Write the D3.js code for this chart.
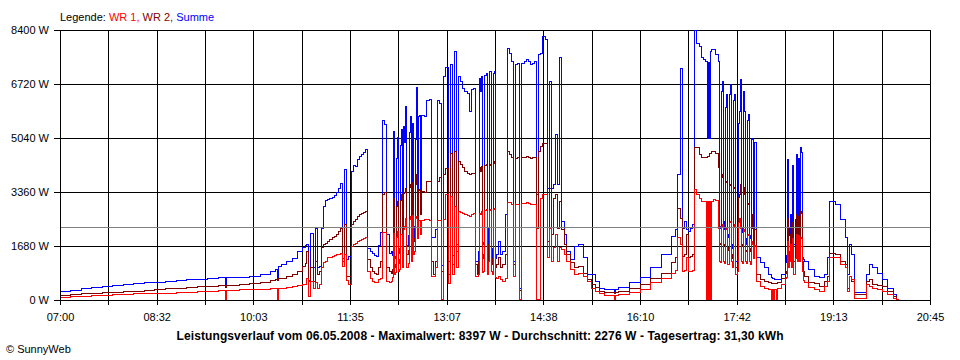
<!DOCTYPE html>
<html><head><meta charset="utf-8">
<script src="https://cdn.jsdelivr.net/npm/d3@7"></script>
<style>
body{margin:0;background:#fff}
svg{display:block}
text{font-family:Arial,"Liberation Sans",sans-serif}
</style>
</head><body>
<svg id="chart" width="960" height="360"></svg>
<script>
// ---------- data ----------
const startTime = "07:00";
const endTime = "20:45";
const xTickLabels = ["07:00","08:32","10:03","11:35","13:07","14:38","16:10","17:42","19:13","20:45"];
const yTicks = [0,1680,3360,5040,6720,8400];
const average = 2276;
const legendItems = ["WR 1", "WR 2", "Summe"];
const titleText = "Leistungsverlauf vom 06.05.2008 - Maximalwert: 8397 W - Durchschnitt: 2276 W - Tagesertrag: 31,30 kWh";
const copyrightText = "\u00A9 SunnyWeb";

// minutes after 07:00
const minutes = [
  0,10,20,30,40,50,60,70,80,90,100,110,120,130,140,150,155,157,158,160,170,180,190,200,204,206,207,210,215,220,225,230,233,
  234,236,238,240,242,244,246,248,250,252,
  254,256,258,260,262,264,266,268,270,272,
  274,276,278,280,282,284,286,288,290,292,
  294,296,298,300,302,304,306,308,310,312,
  314,315,316,317,318,319,320,321,322,323,
  324,325,326,327,328,329,330,331,332,333,
  334,335,336,337,338,339,340,341,342,343,
  344,346,348,350,352,354,356,358,360,362,
  364,366,368,370,372,374,376,378,380,382,
  384,386,388,390,392,394,396,397,398,399,
  400,401,402,403,404,405,406,407,408,409,
  410,411,412,413,414,416,418,420,422,424,
  426,428,430,432,434,436,438,440,442,444,
  446,448,450,452,454,456,458,460,462,464,
  466,468,470,472,474,476,478,
  480,484,488,492,496,500,504,508,512,516,520,526,527,530,540,550,560,570,580,584,
  586,588,590,592,594,596,598,600,602,604,
  606,608,610,612,613,614,615,616,617,618,
  620,622,624,625,626,627,628,629,630,631,
  632,633,634,635,636,637,638,639,640,641,
  642,643,644,645,646,647,648,649,650,651,
  652,653,654,655,656,657,658,659,660,664,
  668,672,675,676,677,678,679,680,684,688,
  689,690,691,692,693,694,695,696,697,698,
  699,700,701,702,703,704,705,706,710,715,
  720,725,728,730,735,740,745,747,749,751,
  753,760,765,768,770,775,780,785,790,793,
  795
];

// Summe (W)
const summe = [
  280,310,365,400,420,440,490,520,540,560,585,610,630,650,665,690,700,395,705,710,715,725,790,900,950,640,1050,1100,1200,1300,1500,1630,1700,
  1720,620,2080,1000,2240,1000,1050,2240,2900,3100,
  3120,3170,3200,3250,3330,3480,3640,1300,4050,1250,
  1350,4000,4200,4150,4370,4450,4520,4600,4680,1600,
  1500,1450,1400,1350,1700,2100,5600,5450,2030,1450,
  1500,1400,5250,1300,1350,4400,5050,1450,1600,4800,
  5300,1500,5400,4900,6030,1700,2000,5200,5700,2000,
  5500,1950,2300,5000,6600,3000,5700,5750,3400,5750,
  5750,5700,6200,6250,1930,1930,2200,6200,6100,1060,
  6950,7220,1200,7321,1400,7737,1721,6958,6803,6595,
  6492,6440,5870,6544,6595,1203,1203,1500,6906,6500,
  6958,1800,1721,7000,7062,1500,2240,7100,7114,1600,
  1203,7050,7114,1300,1410,1825,1410,1514,2654,7840,
  7684,7425,1203,7321,7373,373,7373,7425,7477,7425,
  7321,7373,7425,3277,7632,7684,8200,8099,3484,6803,
  3484,3588,5143,3588,7529,2447,2033,
  1500,1255,1670,1740,1307,789,789,581,373,321,321,230,321,394,529,705,996,1410,1981,2200,
  3899,7197,2240,2447,2188,2136,2240,2344,8397,7995,
  7892,7529,7477,7425,7425,5040,7400,5040,7737,7789,
  7789,7632,7425,2240,2300,6500,6803,2447,2200,6000,
  6388,2033,1950,6400,6699,1721,1600,6200,6388,1203,
  1400,5500,5870,6854,2240,2100,6500,5870,1721,1900,
  5600,5766,2000,1900,5040,4988,2200,4900,1307,1152,
  996,789,700,680,660,640,633,633,789,1152,
  1400,4366,2240,2000,2654,1800,4200,1721,2500,4521,
  2240,4400,2300,4729,4600,1307,1250,1203,944,736,
  705,789,1307,3070,2966,2499,1930,790,1721,1410,
  218,218,800,1100,996,840,633,373,166,10,
  0
];

// WR 2 (W)
const wr2 = [
  155,175,200,207,220,240,255,275,300,330,350,370,390,410,420,440,450,380,455,460,480,510,560,615,640,600,660,680,740,800,900,1050,1150,
  1500,581,996,581,1203,789,893,1618,1721,1773,
  1825,1877,1929,1981,2033,2136,2240,1203,2344,736,
  736,2344,2447,2499,2603,2654,2706,2737,2758,1250,
  996,893,810,789,996,1203,3277,3329,996,893,
  840,950,3173,996,1100,2900,3070,1150,1250,3100,
  3277,1203,3300,3350,3484,1410,1550,3500,3588,1600,
  3650,1825,1900,3600,3899,2400,3432,3400,2654,3380,
  3380,3329,3692,3692,1203,789,1203,3692,3796,900,
  3899,4097,800,4573,1100,4625,1500,4314,4210,4107,
  4003,3951,3899,3951,3951,1100,789,1200,4107,4000,
  4158,1300,1410,4180,4210,1200,1721,4200,4210,1300,
  1100,4250,4314,1000,1100,1307,996,1100,1410,4625,
  4521,4418,1100,4397,4418,300,4439,4439,4470,4439,
  4397,4418,4418,2240,4625,4780,4884,4884,1825,3484,
  2033,3173,3277,2240,3070,2188,1721,
  1410,1152,1014,1030,840,633,477,394,270,239,239,200,239,270,373,477,664,840,1152,1307,
  2862,2551,1359,1410,2033,1307,1359,1410,4729,4729,
  4521,4418,4418,4418,4418,4470,4470,4573,4573,4625,
  4625,4573,4107,1721,1750,3800,3899,1721,1700,3650,
  3692,1618,1550,3550,3588,1410,1300,3500,3484,996,
  1100,3200,3277,3588,1721,1650,3500,3277,1500,1550,
  3000,2966,1600,1500,2654,2240,1600,2200,789,633,
  581,529,510,505,500,498,498,560,664,840,
  900,2551,1203,1500,2033,1400,2400,1203,1800,2654,
  2033,2600,1900,2758,2700,1203,900,736,560,498,
  425,581,736,1462,1410,1203,1100,373,736,581,
  166,166,581,633,477,446,425,249,114,10,
  0
];

// WR 1 (W)
const wr1 = [
  85,95,120,140,150,160,175,190,200,205,215,230,245,255,265,290,300,30,305,310,320,330,340,350,355,30,360,365,390,420,440,470,480,
  684,114,581,373,529,373,477,996,1152,1203,
  1307,1328,1359,1390,1410,1431,1462,1048,1410,600,
  477,1670,1721,1773,1825,1846,1877,1908,1929,900,
  684,581,529,529,633,684,2095,2095,581,560,
  581,700,2064,789,850,1950,2116,900,950,2050,
  2033,996,2200,2300,2551,996,1150,2500,2602,1200,
  2620,1410,1500,2600,2551,1900,2468,2470,2033,2468,
  2468,2499,2499,2468,736,736,996,2468,2468,10,
  2499,3277,500,3225,800,2913,1000,2758,2737,2706,
  2654,2633,2602,2654,2706,736,736,800,2706,2650,
  2758,850,893,2780,2810,800,1203,2800,2810,900,
  789,2830,2862,700,684,736,633,581,684,3039,
  3018,2966,736,2966,2966,10,2987,2987,3018,2987,
  2966,2966,2966,10,10,3173,3277,3277,1307,2240,
  1203,1618,2033,1203,1618,1566,1410,
  1203,944,789,840,737,581,373,270,187,146,135,10,150,166,218,321,529,684,840,923,
  1929,1721,893,913,1307,893,893,913,3432,3277,
  3173,3070,3070,3070,10,3070,10,3070,10,3070,
  3121,3090,2240,1203,1180,2300,2344,1203,1150,2200,
  2240,1100,1120,2400,2447,1203,1000,2300,2344,800,
  900,2400,2551,2240,1203,1150,2200,2136,1203,1150,
  2000,2033,1200,1100,1825,1721,1300,1700,581,425,
  373,321,10,321,10,321,10,353,477,684,
  700,1825,996,1200,1721,1000,1900,789,1300,2033,
  1203,2000,1200,1929,1900,893,600,529,394,321,
  270,425,581,1307,1307,1100,1000,270,736,633,
  62,62,477,425,373,321,270,166,62,10,
  0
];

// ---------- chart ----------
const svg = d3.select("#chart");
const L = 60, R = 930, T = 30, B = 300;

const parseHM = s => { const p = s.split(":").map(Number); return new Date(2008, 4, 6, p[0], p[1]); };
const t0 = parseHM(startTime), t1 = parseHM(endTime);
const x = d3.scaleTime().domain([t0, t1]).range([L, R]);
const y = d3.scaleLinear().domain([0, 8400]).range([B, T]);
const times = minutes.map(m => d3.timeMinute.offset(t0, m));
const gridTimes = d3.range(19).map(i => new Date(+t0 + i * (t1 - t0) / 18));
const crisp = v => Math.round(v) + 0.5;

// grid
const grid = svg.append("g").attr("stroke", "#000").attr("stroke-width", 1).attr("shape-rendering", "crispEdges");
grid.selectAll("line.v").data(gridTimes).join("line")
  .attr("x1", d => crisp(x(d))).attr("x2", d => crisp(x(d)))
  .attr("y1", T).attr("y2", B);
grid.selectAll("line.h").data(yTicks.filter(d => d > 0)).join("line")
  .attr("x1", L).attr("x2", R + 1)
  .attr("y1", d => crisp(y(d))).attr("y2", d => crisp(y(d)));

// series lines (Summe first, then WR 2, then WR 1 on top)
const n = Math.min(minutes.length, summe.length, wr1.length, wr2.length);
const series = [
  {name: "Summe", values: summe, color: "#0000ff"},
  {name: "WR 2", values: wr2, color: "#800000"},
  {name: "WR 1", values: wr1, color: "#ff0000"}
];
const line = d3.line().curve(d3.curveStepAfter);
series.forEach(s => {
  const pts = d3.range(n).map(i => [x(times[i]), y(s.values[i])]);
  svg.append("path")
    .attr("d", line(pts))
    .attr("fill", "none")
    .attr("stroke", s.color)
    .attr("stroke-width", 1)
    .attr("shape-rendering", "crispEdges");
});

// average line
svg.append("line")
  .attr("x1", L).attr("x2", R)
  .attr("y1", crisp(y(average))).attr("y2", crisp(y(average)))
  .attr("stroke", "#808080").attr("stroke-width", 1).attr("shape-rendering", "crispEdges");

// axes
const xAxis = d3.axisBottom(x).tickValues(gridTimes).tickSize(5).tickSizeOuter(0).tickPadding(8)
  .tickFormat((d, i) => i % 2 ? "" : xTickLabels[i / 2]);
const gx = svg.append("g").attr("transform", `translate(0,${B})`).call(xAxis);
const yAxis = d3.axisLeft(y).tickValues(yTicks).tickSize(6).tickSizeOuter(0).tickPadding(5)
  .tickFormat(d => d + " W");
const gy = svg.append("g").attr("transform", `translate(${L},0)`).call(yAxis);
[gx, gy].forEach(g => {
  g.attr("font-family", "Arial, 'Liberation Sans', sans-serif").attr("font-size", 11);
  g.selectAll("path, line").attr("stroke", "#000").attr("shape-rendering", "crispEdges");
  g.selectAll("text").attr("fill", "#000");
});

// legend
const legend = svg.append("text").attr("x", L).attr("y", 21).attr("font-size", 11);
legend.append("tspan").attr("fill", "#000").text("Legende: ");
const legendColors = ["#ff0000", "#800000", "#0000ff"];
legendItems.forEach((name, i) => {
  legend.append("tspan").attr("fill", legendColors[i]).text(name + (i < legendItems.length - 1 ? ", " : ""));
});

// title and copyright
svg.append("text").attr("x", 480).attr("y", 340).attr("text-anchor", "middle")
  .attr("font-size", 12).attr("font-weight", "bold").attr("fill", "#000")
  .attr("textLength", 607).attr("lengthAdjust", "spacing").text(titleText);
svg.append("text").attr("x", 6).attr("y", 353).attr("font-size", 11).attr("fill", "#000").text(copyrightText);
</script>
</body></html>
